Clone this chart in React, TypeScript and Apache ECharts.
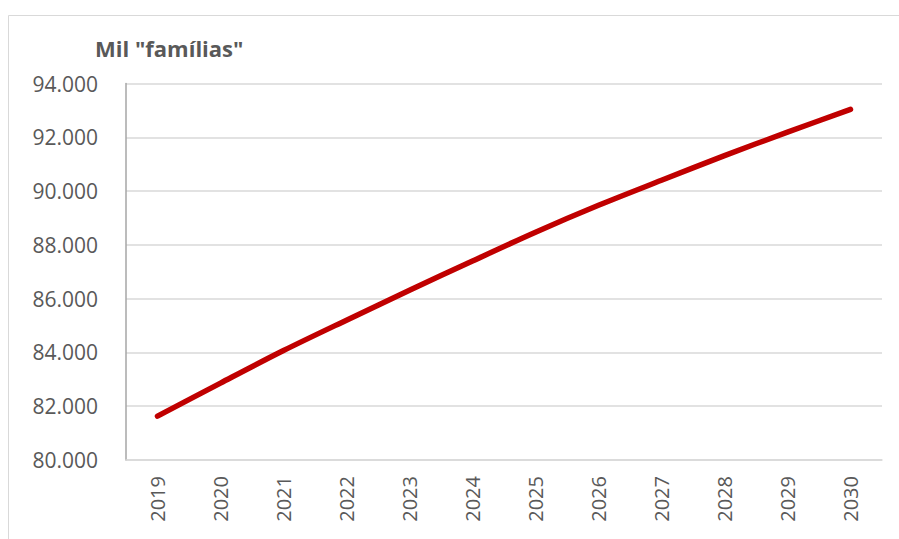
import React, { useEffect, useRef } from "react";
import * as echarts from "echarts";

const years = ["2019", "2020", "2021", "2022", "2023", "2024", "2025", "2026", "2027", "2028", "2029", "2030"];
const familias = [81630, 82860, 84070, 85200, 86310, 87400, 88470, 89470, 90400, 91320, 92190, 93040];
const yTicks = { min: 80000, max: 94000, interval: 2000 };
const titleText = 'Mil "famílias"';

const fmt = (v: number) => {
  const s = Math.round(v).toString();
  return s.replace(/\B(?=(\d{3})+(?!\d))/g, ".");
};

export default function App() {
  const ref = useRef<HTMLDivElement>(null);
  useEffect(() => {
    if (!ref.current) return;
    const chart = echarts.init(ref.current, undefined, { renderer: "svg" });
    const font = "Open Sans, Liberation Sans, sans-serif";
    chart.setOption({
      animation: false,
      backgroundColor: "#ffffff",
      textStyle: { fontFamily: font },
      graphic: [
        {
          type: "rect",
          shape: { x: 8.5, y: 15.5, width: 1000, height: 600 },
          style: { fill: "none", stroke: "#d9d9d9", lineWidth: 1 },
          silent: true,
          z: -1,
        },
        {
          type: "text",
          x: 95,
          y: 48,
          style: {
            text: titleText,
            fontSize: 22,
            fontWeight: "bold",
            fill: "#595959",
            fontFamily: font,
            verticalAlign: "middle",
          },
        },
      ],
      grid: { left: 126, right: 17, top: 83.5, bottom: 79, containLabel: false },
      xAxis: {
        type: "category",
        data: years,
        boundaryGap: true,
        axisLine: { show: true, lineStyle: { color: "#d9d9d9", width: 1.5 } },
        axisTick: { show: false },
        axisLabel: {
          rotate: 90,
          color: "#595959",
          fontSize: 20,
          margin: 16,
          fontFamily: font,
        },
      },
      yAxis: {
        type: "value",
        min: yTicks.min,
        max: yTicks.max,
        interval: yTicks.interval,
        axisLine: { show: true, lineStyle: { color: "#a6a6a6", width: 1.5 } },
        axisTick: { show: false },
        splitLine: { show: true, lineStyle: { color: "#d9d9d9", width: 1.5 } },
        axisLabel: {
          color: "#595959",
          fontSize: 21,
          margin: 28,
          fontFamily: font,
          formatter: (v: number) => fmt(v),
        },
      },
      series: [
        {
          type: "line",
          data: familias,
          smooth: 0.3,
          symbol: "none",
          lineStyle: { color: "#c00000", width: 5.5, cap: "round", join: "round" },
        },
      ],
    });
    return () => chart.dispose();
  }, []);
  return (
    <div
      ref={ref}
      style={{ position: "absolute", left: 0, top: 0, width: 899, height: 539 }}
    />
  );
}
